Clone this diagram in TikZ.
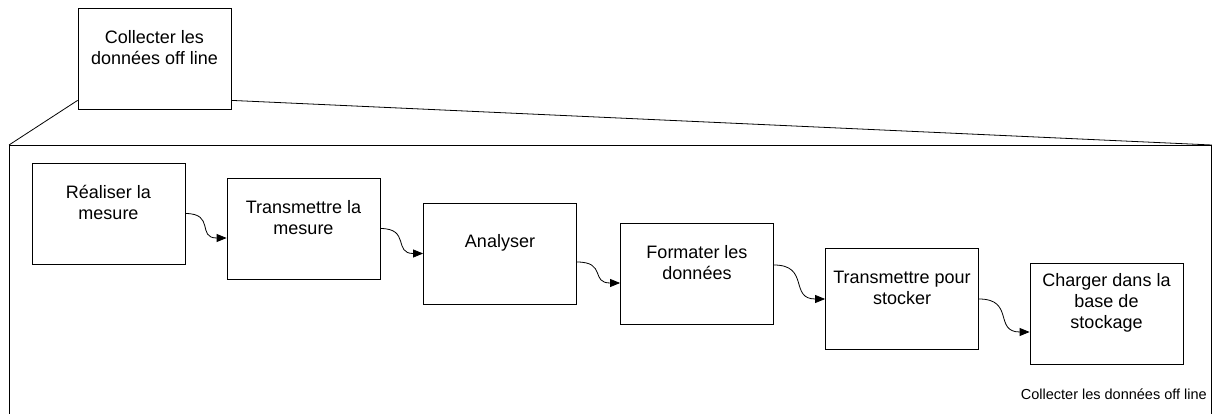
\documentclass[tikz,border=0pt]{standalone}
\usepackage{fontspec}
\setmainfont{Liberation Sans}
\usetikzlibrary{arrows.meta}
\begin{document}
\begin{tikzpicture}[x=1pt,y=-1pt,
  box/.style={draw=black,line width=0.8pt,minimum width=153pt,minimum height=101pt,inner sep=0pt,fill=white},
  txt/.style={align=center,font=\fontsize{18}{21}\selectfont},
  conn/.style={draw=black,line width=0.8pt,-{Triangle[length=10pt,width=8pt]}},
  zoomline/.style={draw=black,line width=0.8pt}]
\useasboundingbox (0,0) rectangle (1216,414);
\clip (0,0) rectangle (1216,414);
% outer frame (extends below the picture)
\node[draw=black,line width=0.8pt,minimum width=1202pt,minimum height=320pt,inner sep=0pt,anchor=north west] (frame) at (9,145) {};
% parent activity
\node[box,label={[txt,yshift=11pt]center:{Collecter les\\données off line}}] (top) at (154.5,58.5) {};
\draw[zoomline] ([yshift=9pt]top.south west) -- (frame.north west);
\draw[zoomline] ([yshift=9pt]top.south east) -- (frame.north east);
% steps
\node[box,label={[txt,yshift=11pt]center:{Réaliser la\\mesure}}] (b1) at (108.5,213.5) {};
\node[box,label={[txt,yshift=11pt]center:{Transmettre la\\mesure}}] (b2) at (303.5,228.5) {};
\node[box,label={[txt,yshift=11pt]center:{Analyser}}] (b3) at (500,253.5) {};
\node[box,label={[txt,yshift=11pt]center:{Formater les\\données}}] (b4) at (697,273.5) {};
\node[box,label={[txt,yshift=11pt]center:{Transmettre pour\\stocker}}] (b5) at (902,299) {};
\node[box,label={[txt,yshift=11pt]center:{Charger dans la\\base de\\stockage}}] (b6) at (1106.5,314) {};
% connectors
\draw[conn] (b1.east) .. controls +(30,0) and +(-30,0) .. ([yshift=-9.5pt]b2.west);
\draw[conn] (b2.east) .. controls +(30,0) and +(-30,0) .. (b3.west);
\draw[conn] ([yshift=-8.5pt]b3.east) .. controls +(30,0) and +(-30,0) .. ([yshift=-9.5pt]b4.west);
\draw[conn] ([yshift=8.5pt]b4.east) .. controls +(36,0) and +(-36,0) .. (b5.west);
\draw[conn] (b5.east) .. controls +(36,0) and +(-36,0) .. ([yshift=-18pt]b6.west);
% frame caption
\node[anchor=base east,inner sep=0pt,font=\fontsize{14.5}{17}\selectfont] (cap) at (1207,399) {Collecter les données off line};
\end{tikzpicture}
\end{document}
